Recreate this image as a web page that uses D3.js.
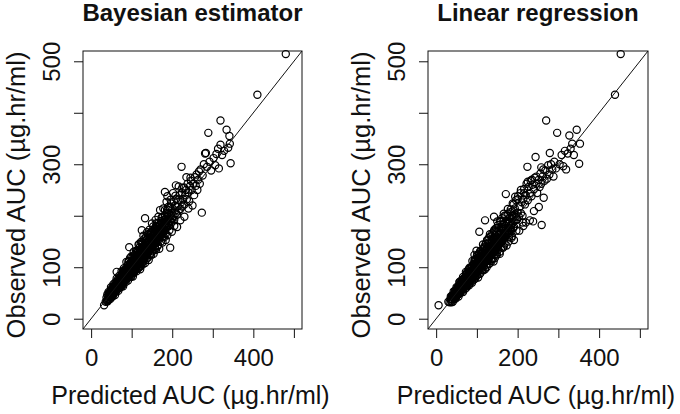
<!DOCTYPE html>
<html><head><meta charset="utf-8">
<script src="https://cdn.jsdelivr.net/npm/d3@7"></script>
<style>body{margin:0;background:#fff}</style>
</head><body>
<svg id="chart" width="680" height="414"></svg>
<script>
const panelTitles = ["Bayesian estimator", "Linear regression"];
const xAxisTitle = "Predicted AUC (µg.hr/ml)";
const yAxisTitle = "Observed AUC (µg.hr/ml)";
const axisLimits = [0, 500];
const tickValues = [0, 100, 200, 300, 400, 500];
const xTickLabels = ["0", "", "200", "", "400", ""];
const yTickLabels = ["0", "100", "", "300", "", "500"];

// [predicted, observed]
const bayesianPoints = [
[32,26],[36,33],[38,41],[40,36],[41,44],[43,39],[44,47],[45,42],[46,50],[47,44],[48,40],[49,52],[42,37],[39,34],
[50,47],[51,55],[52,49],[52,58],[53,51],[54,46],[54,60],[55,53],[55,57],[56,50],[56,62],[57,55],[57,59],[58,52],[58,64],[59,57],[59,61],[60,54],[60,66],[61,58],[61,63],[62,56],[62,69],[63,60],[63,91],[64,58],[64,66],[65,62],[65,71],[66,60],[66,68],[67,64],[68,59],[68,73],[69,66],[69,70],
[70,63],[70,75],[71,68],[71,79],[72,66],[72,72],[73,70],[73,82],[74,67],[74,76],[75,71],[75,85],[76,69],[76,78],[77,73],[77,88],[78,70],[78,81],[79,75],[79,84],[80,72],[80,78],[80,90],[81,76],[81,86],[82,74],[82,82],[83,79],[83,94],[84,76],[84,85],[85,80],[85,90],[86,77],[86,84],[87,82],[87,96],[88,79],[88,88],[89,84],[89,92],[90,81],[90,87],[90,99],[78,66],
[91,85],[91,95],[92,83],[92,100],[93,88],[93,94],[94,139],[94,84],[94,102],[95,90],[95,97],[96,86],[96,106],[97,92],[97,99],[98,88],[98,104],[99,94],[99,110],[100,90],[100,97],[100,103],[101,93],[101,112],[102,96],[102,106],[103,91],[103,100],[104,97],[104,115],[105,94],[105,103],[106,99],[106,109],[107,95],[107,118],[108,101],[108,106],[109,97],[109,112],[110,103],[110,99],[110,121],[96,118],[104,88],[99,82],[106,124],[92,110],
[111,106],[111,114],[112,101],[112,119],[113,108],[113,125],[114,104],[114,112],[115,109],[115,130],[116,105],[116,117],[117,111],[117,122],[118,107],[118,127],[119,113],[119,118],[120,109],[120,123],[120,135],[121,115],[121,128],[122,111],[122,119],[123,116],[123,133],[124,113],[124,124],[125,172],[125,118],[125,129],[126,114],[126,138],[127,121],[127,126],[128,116],[128,132],[129,123],[129,142],[130,118],[130,127],[115,98],[122,102],[119,145],[128,110],[113,131],[126,148],
[131,124],[131,136],[132,119],[132,130],[133,195],[133,126],[133,141],[134,122],[134,147],[135,129],[135,137],[136,125],[136,152],[137,131],[137,143],[138,127],[138,139],[139,133],[139,156],[140,128],[140,138],[140,148],[141,134],[141,160],[142,130],[142,144],[143,136],[143,152],[144,132],[144,141],[145,138],[145,163],[146,134],[146,149],[147,140],[147,156],[148,136],[148,145],[149,142],[149,168],[150,139],[150,153],[138,118],[145,124],[135,158],
[151,146],[151,160],[152,141],[153,150],[153,171],[154,145],[155,157],[155,166],[156,148],[157,162],[157,175],[158,152],[159,146],[159,168],[160,155],[160,180],[161,150],[162,163],[162,172],[163,157],[164,152],[164,178],[165,161],[166,168],[166,186],[167,158],[168,165],[168,175],[169,160],[170,170],[170,183],[158,136],[165,143],
[171,163],[172,176],[172,190],[173,168],[174,182],[175,171],[176,196],[176,178],[177,167],[178,186],[179,175],[180,192],[180,181],[181,171],[182,200],[183,184],[184,176],[185,193],[186,205],[186,181],[187,189],[188,178],[189,198],[190,211],[190,185],[178,160],[184,165],[182,246],[188,238],
[191,193],[192,182],[193,203],[194,216],[195,138],[195,190],[196,199],[197,224],[198,188],[199,206],[200,196],[201,214],[203,200],[204,228],[205,192],[207,210],[208,219],[209,205],[210,233],[209,259],
[212,202],[213,218],[215,231],[216,210],[218,240],[220,213],[222,226],[223,295],[224,245],[225,218],[227,232],[229,255],[230,222],[232,240],[234,250],[236,232],[238,262],[240,245],[242,228],[244,258],[246,268],[248,250],
[252,262],[254,240],[256,275],[258,258],[260,280],[262,250],[264,270],[266,286],[268,262],[270,290],[273,206],[275,278],[278,300],[281,321],[283,322],[286,295],[289,361],[292,305],[296,288],
[302,312],[306,298],[309,320],[313,330],[315,292],[319,385],[319,338],[323,318],[328,326],[334,367],[338,332],[341,355],[342,340],[344,302],
[410,435],[480,514],
[40,47],[41,34],[43,52],[44,38],[46,52],[47,38],[49,61],[50,43],[52,60],[53,43],[55,67],[56,49],[57,64],[59,46],[60,71],[62,53],[63,78],[64,57],[66,76],[67,54],[69,83],[70,61],[72,81],[73,61],[75,92],[76,65],[78,91],[79,63],
[81,98],[82,72],[84,96],[85,71],[87,110],[88,77],[90,104],[91,74],[93,112],[94,81],[96,108],[97,81],[99,121],[100,88],[102,119],[103,82],[105,130],[106,90],[108,124],[109,95],[111,132],[112,92],[114,128],[115,101],[117,144],[118,99],[120,139],[121,96],[123,149],[124,107],[126,144],[127,105],[129,161],[130,113],
[132,156],[133,108],[135,153],[136,120],[138,168],[139,118],[141,164],[142,114],[144,173],[145,125],[147,168],[148,123],[150,185],[151,131],[153,179],[154,126],[156,175],[157,138],[159,192],[160,134],[162,186],[164,141],[166,198],[168,136],[170,211],[172,150],[174,197],[176,148],[178,214],[180,158],
[182,211],[184,153],[186,227],[188,162],[190,217],[193,172],[196,231],[199,169],[202,244],[205,180],[208,239],[212,178],[216,257],[220,191],[225,254],[230,198],[235,275],[240,214],[245,274],[250,220],
[45,47],[48,46],[51,55],[53,51],[56,58],[58,53],[61,65],[63,60],[65,71],[67,63],[70,71],[72,67],[74,79],[76,74],[78,81],[80,76],[82,89],[84,82],[86,90],[88,81],[90,93],[92,88],[94,102],[96,90],[98,104],[100,98],[102,106],[104,97],[106,113],[108,104],
[110,112],[112,106],[114,123],[116,113],[118,124],[120,110],[122,126],[124,119],[126,137],[128,120],[130,138],[132,129],[134,139],[136,126],[138,148],[140,136],[142,149],[144,137],[146,158],[148,142],[150,155],[153,144],[156,165],[159,154],[162,177],[165,153],[168,175],[171,164],[174,186],[177,168],[180,189],[184,180],[188,203],[192,180],[196,202],[200,194]
];

const regressionPoints = [
[6,26],[30,33],[33,32],[35,38],[37,34],[38,42],[40,37],[41,45],[42,40],[44,48],[45,43],[46,39],[47,51],[48,46],[49,55],[50,44],
[51,50],[51,58],[52,46],[53,55],[53,61],[54,52],[55,48],[55,59],[56,54],[56,64],[57,51],[58,57],[58,62],[59,53],[59,67],[60,58],[60,63],[61,55],[62,60],[62,70],[63,57],[63,65],[64,61],[64,74],[65,58],[65,68],[66,63],[67,60],[67,72],[68,66],[68,78],[69,62],[69,70],[70,67],[70,75],[58,72],[66,52],
[71,64],[71,72],[72,69],[72,80],[73,66],[73,75],[74,71],[74,86],[75,68],[75,78],[76,73],[76,82],[77,70],[77,90],[78,75],[78,84],[79,72],[79,79],[80,76],[80,88],[80,96],[81,73],[81,83],[82,78],[82,92],[83,75],[83,86],[84,80],[84,98],[85,77],[85,89],[86,82],[86,93],[87,79],[87,86],[88,84],[88,102],[89,80],[89,91],[90,86],[90,95],[74,60],[82,68],[88,70],
[91,83],[91,98],[92,88],[92,106],[93,85],[93,94],[94,90],[94,112],[95,86],[95,100],[96,92],[96,104],[97,88],[97,116],[98,94],[98,101],[99,90],[99,108],[100,96],[100,103],[100,122],[101,92],[101,110],[102,98],[102,106],[103,94],[103,118],[104,100],[104,108],[105,96],[105,126],[106,169],[106,102],[106,113],[107,98],[107,121],[108,104],[108,110],[109,99],[109,130],[110,106],[110,114],[96,78],[103,80],[108,88],[94,124],[99,132],
[111,101],[111,118],[112,107],[112,126],[113,103],[113,114],[114,110],[114,135],[115,105],[115,120],[116,112],[116,129],[117,107],[117,116],[118,113],[118,140],[119,109],[119,124],[120,191],[120,115],[120,132],[121,111],[121,120],[122,117],[122,146],[123,112],[123,128],[124,119],[124,137],[125,114],[125,124],[126,121],[126,152],[127,116],[127,131],[128,122],[128,141],[129,118],[129,127],[130,124],[130,158],[116,94],[124,100],[129,106],
[131,120],[131,134],[132,127],[132,146],[133,122],[133,138],[134,129],[134,160],[135,124],[135,133],[136,130],[136,151],[137,126],[137,142],[138,132],[138,166],[139,128],[139,140],[140,134],[140,155],[141,130],[141,145],[142,198],[142,136],[142,170],[143,131],[143,150],[144,138],[144,143],[145,133],[145,162],[146,140],[146,148],[147,136],[147,176],[148,142],[148,154],[149,138],[149,146],[150,144],[150,168],[136,112],[144,118],[149,125],
[151,140],[151,156],[152,147],[152,182],[153,142],[153,162],[154,149],[155,145],[155,172],[156,152],[157,147],[157,188],[158,154],[159,149],[159,166],[160,156],[160,178],[161,150],[162,158],[162,195],[163,153],[164,160],[164,174],[165,155],[166,162],[166,184],[167,157],[168,164],[168,200],[169,159],[170,166],[170,180],[156,130],[166,140],[171,242],
[172,162],[172,176],[173,190],[174,168],[175,184],[176,172],[177,204],[178,176],[179,166],[180,186],[181,196],[182,175],[183,212],[184,182],[185,170],[186,194],[187,208],[188,186],[189,176],[190,200],[190,222],[178,150],[186,160],
[192,190],[193,214],[195,198],[196,230],[198,192],[200,206],[201,238],[203,198],[205,218],[207,244],[208,205],[210,226],[212,200],[214,232],[216,252],[218,222],[220,240],[222,262],[224,295],[225,230],[227,256],[230,244],[232,268],[234,238],[236,260],[238,189],[240,252],[242,274],[244,314],[246,262],[248,244],[214,180],
[252,270],[254,256],[256,282],[258,262],[259,182],[261,276],[263,290],[266,268],[268,288],[270,385],[272,272],[275,298],[278,280],[279,322],[282,300],[285,290],[288,276],[290,305],[294,292],[297,361],
[303,300],[308,318],[312,296],[316,326],[319,290],[323,321],[327,356],[330,330],[334,340],[338,318],[345,367],[351,301],[353,340],
[439,435],[453,514],
[36,43],[38,32],[39,45],[41,33],[43,53],[44,38],[46,54],[48,39],[50,61],[51,45],[53,60],[55,43],[57,71],[58,49],[60,70],[61,53],[63,75],[65,54],[66,81],[68,60],[69,79],[71,58],[73,91],[74,64],[76,90],[77,65],[79,88],
[81,65],[82,99],[84,73],[85,99],[87,72],[89,112],[90,79],[92,106],[93,76],[95,114],[97,83],[98,111],[100,84],[101,124],[103,91],[105,123],[107,87],[108,131],[110,95],[112,128],[113,94],[115,144],[117,102],[119,138],[120,96],[122,145],[124,105],[125,153],[127,112],[129,146],
[131,107],[132,164],[134,115],[136,160],[138,116],[139,156],[141,111],[143,173],[145,126],[146,169],[148,123],[150,189],[152,134],[154,177],[156,126],[158,190],[160,138],[162,183],[164,138],[166,204],[168,146],[170,199],[173,142],[176,213],[179,158],
[182,207],[185,157],[188,224],[191,153],[194,237],[197,171],[200,232],[204,171],[208,250],[212,187],[216,244],[220,187],[225,266],[230,191],[235,270],[240,209],[246,276],[252,217],[258,294],[264,235],
[37,38],[40,38],[43,46],[46,43],[49,50],[52,50],[54,58],[57,54],[59,62],[62,60],[64,70],[66,61],[69,71],[71,69],[73,77],[75,71],[77,80],[79,75],[81,87],[83,81],[85,89],[87,81],[89,95],[91,87],[93,95],[95,89],[97,106],[99,96],
[101,105],[103,98],[105,111],[107,100],[109,118],[111,109],[113,116],[115,110],[117,125],[119,112],[121,127],[123,119],[125,136],[127,117],[129,134],[131,126],[133,141],[135,128],[137,148],[139,135],[141,145],[143,134],[145,155],[147,144],[149,156],
[152,141],[155,164],[158,152],[161,174],[164,156],[167,174],[170,165],[173,189],[176,165],[179,188],[183,176],[187,200],[191,178],[195,203],[199,193]
];

const svg = d3.select("#chart");
const font = "'Liberation Sans', Arial, Helvetica, sans-serif";
const panels = [
  {title: panelTitles[0], points: bayesianPoints, left: 83, right: 302},
  {title: panelTitles[1], points: regressionPoints, left: 428, right: 648}
];
const plotTop = 51, plotBottom = 329;
const pad = (axisLimits[1] - axisLimits[0]) * 0.04;
const domain = [axisLimits[0] - pad, axisLimits[1] + pad];

panels.forEach(p => {
  const x = d3.scaleLinear().domain(domain).range([p.left, p.right]);
  const y = d3.scaleLinear().domain(domain).range([plotBottom, plotTop]);
  const g = svg.append("g");
  const cx = (p.left + p.right) / 2, cy = (plotTop + plotBottom) / 2;

  g.append("g").selectAll("circle").data(p.points).join("circle")
    .attr("cx", d => x(d[0])).attr("cy", d => y(d[1])).attr("r", 3.6)
    .attr("fill", "none").attr("stroke", "#000").attr("stroke-width", 1.2);

  g.append("line")
    .attr("x1", x(domain[0])).attr("y1", y(domain[0]))
    .attr("x2", x(domain[1])).attr("y2", y(domain[1]))
    .attr("stroke", "#111").attr("stroke-width", 1);

  g.append("rect").attr("x", p.left).attr("y", plotTop)
    .attr("width", p.right - p.left).attr("height", plotBottom - plotTop)
    .attr("fill", "none").attr("stroke", "#111").attr("stroke-width", 1);

  const xa = g.append("g").attr("transform", `translate(0,${plotBottom})`)
    .call(d3.axisBottom(x).tickValues(tickValues).tickFormat((d, i) => xTickLabels[i]).tickSize(9).tickSizeOuter(0));
  xa.select(".domain").remove();
  xa.selectAll("line").attr("stroke", "#111");
  xa.selectAll("text").attr("y", 37).attr("dy", 0).attr("fill", "#111")
    .style("font-family", font).style("font-size", "24px");

  const ya = g.append("g").attr("transform", `translate(${p.left},0)`)
    .call(d3.axisLeft(y).tickValues(tickValues).tickFormat((d, i) => yTickLabels[i]).tickSize(9).tickSizeOuter(0));
  ya.select(".domain").remove();
  ya.selectAll("line").attr("stroke", "#111");
  ya.selectAll("text").attr("x", 0).attr("y", -23).attr("dy", 0)
    .attr("transform", "rotate(-90)").attr("text-anchor", "middle").attr("fill", "#111")
    .style("font-family", font).style("font-size", "24px");

  g.append("text").attr("x", cx).attr("y", 21).attr("text-anchor", "middle")
    .style("font-family", font).style("font-size", "24px").style("font-weight", "bold")
    .attr("fill", "#111").text(p.title);
  g.append("text").attr("x", cx - 2).attr("y", 404).attr("text-anchor", "middle")
    .style("font-family", font).style("font-size", "25px").attr("fill", "#111").text(xAxisTitle);
  g.append("text").attr("transform", `translate(${p.left - 58},${cy + 5}) rotate(-90)`)
    .attr("text-anchor", "middle")
    .style("font-family", font).style("font-size", "25.5px").attr("fill", "#111").text(yAxisTitle);
});
</script>
</body></html>
